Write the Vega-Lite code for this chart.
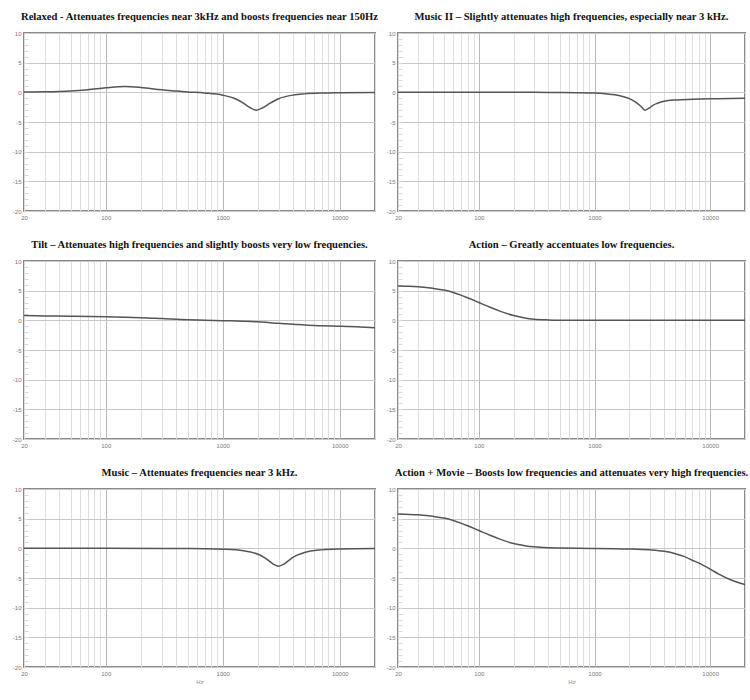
{
  "$schema": "https://vega.github.io/schema/vega-lite/v6.json",
  "background": "white",
  "padding": {"left": 11, "top": 11, "right": 5, "bottom": 5},
  "bounds": "flush",
  "columns": 2,
  "spacing": {"column": 23, "row": 50},
  "data": {"values": [
    {"panel": "relaxed", "f": 20, "db": 0.04},
    {"panel": "relaxed", "f": 30, "db": 0.09},
    {"panel": "relaxed", "f": 40, "db": 0.15},
    {"panel": "relaxed", "f": 50, "db": 0.23},
    {"panel": "relaxed", "f": 70, "db": 0.44},
    {"panel": "relaxed", "f": 100, "db": 0.77},
    {"panel": "relaxed", "f": 146, "db": 1.0},
    {"panel": "relaxed", "f": 200, "db": 0.83},
    {"panel": "relaxed", "f": 300, "db": 0.42},
    {"panel": "relaxed", "f": 400, "db": 0.22},
    {"panel": "relaxed", "f": 500, "db": 0.07},
    {"panel": "relaxed", "f": 700, "db": -0.12},
    {"panel": "relaxed", "f": 1000, "db": -0.48},
    {"panel": "relaxed", "f": 1250, "db": -1.0},
    {"panel": "relaxed", "f": 1500, "db": -1.82},
    {"panel": "relaxed", "f": 1700, "db": -2.55},
    {"panel": "relaxed", "f": 1930, "db": -3.0},
    {"panel": "relaxed", "f": 2200, "db": -2.6},
    {"panel": "relaxed", "f": 2500, "db": -1.91},
    {"panel": "relaxed", "f": 3000, "db": -1.08},
    {"panel": "relaxed", "f": 4000, "db": -0.46},
    {"panel": "relaxed", "f": 5000, "db": -0.26},
    {"panel": "relaxed", "f": 7000, "db": -0.12},
    {"panel": "relaxed", "f": 10000, "db": -0.06},
    {"panel": "relaxed", "f": 20000, "db": -0.01},

    {"panel": "music2", "f": 20, "db": 0},
    {"panel": "music2", "f": 100, "db": 0},
    {"panel": "music2", "f": 300, "db": 0},
    {"panel": "music2", "f": 500, "db": -0.02},
    {"panel": "music2", "f": 700, "db": -0.05},
    {"panel": "music2", "f": 1000, "db": -0.12},
    {"panel": "music2", "f": 1250, "db": -0.25},
    {"panel": "music2", "f": 1500, "db": -0.42},
    {"panel": "music2", "f": 1750, "db": -0.7},
    {"panel": "music2", "f": 2000, "db": -1.05},
    {"panel": "music2", "f": 2250, "db": -1.6},
    {"panel": "music2", "f": 2500, "db": -2.3},
    {"panel": "music2", "f": 2735, "db": -3.0},
    {"panel": "music2", "f": 3000, "db": -2.6},
    {"panel": "music2", "f": 3250, "db": -2.1},
    {"panel": "music2", "f": 3500, "db": -1.85},
    {"panel": "music2", "f": 4000, "db": -1.5},
    {"panel": "music2", "f": 5000, "db": -1.28},
    {"panel": "music2", "f": 7000, "db": -1.17},
    {"panel": "music2", "f": 10000, "db": -1.1},
    {"panel": "music2", "f": 15000, "db": -1.05},
    {"panel": "music2", "f": 20000, "db": -1.0},

    {"panel": "tilt", "f": 20, "db": 0.8},
    {"panel": "tilt", "f": 30, "db": 0.75},
    {"panel": "tilt", "f": 50, "db": 0.7},
    {"panel": "tilt", "f": 100, "db": 0.6},
    {"panel": "tilt", "f": 150, "db": 0.5},
    {"panel": "tilt", "f": 200, "db": 0.45},
    {"panel": "tilt", "f": 300, "db": 0.3},
    {"panel": "tilt", "f": 500, "db": 0.1},
    {"panel": "tilt", "f": 700, "db": 0.03},
    {"panel": "tilt", "f": 1000, "db": -0.05},
    {"panel": "tilt", "f": 1500, "db": -0.15},
    {"panel": "tilt", "f": 2000, "db": -0.25},
    {"panel": "tilt", "f": 3000, "db": -0.5},
    {"panel": "tilt", "f": 4000, "db": -0.65},
    {"panel": "tilt", "f": 5000, "db": -0.8},
    {"panel": "tilt", "f": 7000, "db": -0.92},
    {"panel": "tilt", "f": 10000, "db": -1.0},
    {"panel": "tilt", "f": 15000, "db": -1.12},
    {"panel": "tilt", "f": 20000, "db": -1.25},

    {"panel": "action", "f": 20, "db": 5.8},
    {"panel": "action", "f": 25, "db": 5.75},
    {"panel": "action", "f": 30, "db": 5.65},
    {"panel": "action", "f": 40, "db": 5.4},
    {"panel": "action", "f": 50, "db": 5.1},
    {"panel": "action", "f": 60, "db": 4.7},
    {"panel": "action", "f": 70, "db": 4.25},
    {"panel": "action", "f": 80, "db": 3.8},
    {"panel": "action", "f": 100, "db": 3.0},
    {"panel": "action", "f": 125, "db": 2.2},
    {"panel": "action", "f": 150, "db": 1.6},
    {"panel": "action", "f": 200, "db": 0.8},
    {"panel": "action", "f": 250, "db": 0.4},
    {"panel": "action", "f": 300, "db": 0.2},
    {"panel": "action", "f": 400, "db": 0.07},
    {"panel": "action", "f": 500, "db": 0.02},
    {"panel": "action", "f": 700, "db": 0},
    {"panel": "action", "f": 1000, "db": 0},
    {"panel": "action", "f": 20000, "db": 0},

    {"panel": "music", "f": 20, "db": 0},
    {"panel": "music", "f": 100, "db": 0},
    {"panel": "music", "f": 300, "db": -0.01},
    {"panel": "music", "f": 500, "db": -0.03},
    {"panel": "music", "f": 700, "db": -0.06},
    {"panel": "music", "f": 1000, "db": -0.14},
    {"panel": "music", "f": 1500, "db": -0.4},
    {"panel": "music", "f": 2000, "db": -1.0},
    {"panel": "music", "f": 2250, "db": -1.51},
    {"panel": "music", "f": 2500, "db": -2.16},
    {"panel": "music", "f": 2750, "db": -2.76},
    {"panel": "music", "f": 3000, "db": -3.0},
    {"panel": "music", "f": 3300, "db": -2.71},
    {"panel": "music", "f": 3600, "db": -2.16},
    {"panel": "music", "f": 4000, "db": -1.5},
    {"panel": "music", "f": 5000, "db": -0.7},
    {"panel": "music", "f": 7000, "db": -0.26},
    {"panel": "music", "f": 10000, "db": -0.11},
    {"panel": "music", "f": 20000, "db": -0.02},

    {"panel": "actionmovie", "f": 20, "db": 5.8},
    {"panel": "actionmovie", "f": 30, "db": 5.65},
    {"panel": "actionmovie", "f": 40, "db": 5.4},
    {"panel": "actionmovie", "f": 50, "db": 5.1},
    {"panel": "actionmovie", "f": 60, "db": 4.7},
    {"panel": "actionmovie", "f": 70, "db": 4.25},
    {"panel": "actionmovie", "f": 80, "db": 3.8},
    {"panel": "actionmovie", "f": 100, "db": 3.0},
    {"panel": "actionmovie", "f": 125, "db": 2.2},
    {"panel": "actionmovie", "f": 150, "db": 1.6},
    {"panel": "actionmovie", "f": 200, "db": 0.8},
    {"panel": "actionmovie", "f": 250, "db": 0.45},
    {"panel": "actionmovie", "f": 300, "db": 0.25},
    {"panel": "actionmovie", "f": 400, "db": 0.1},
    {"panel": "actionmovie", "f": 500, "db": 0.05},
    {"panel": "actionmovie", "f": 700, "db": 0.0},
    {"panel": "actionmovie", "f": 1000, "db": -0.02},
    {"panel": "actionmovie", "f": 1500, "db": -0.05},
    {"panel": "actionmovie", "f": 2000, "db": -0.1},
    {"panel": "actionmovie", "f": 3000, "db": -0.25},
    {"panel": "actionmovie", "f": 4000, "db": -0.5},
    {"panel": "actionmovie", "f": 5000, "db": -0.9},
    {"panel": "actionmovie", "f": 6000, "db": -1.4},
    {"panel": "actionmovie", "f": 7000, "db": -2.0},
    {"panel": "actionmovie", "f": 8000, "db": -2.5},
    {"panel": "actionmovie", "f": 10000, "db": -3.5},
    {"panel": "actionmovie", "f": 12000, "db": -4.4},
    {"panel": "actionmovie", "f": 15000, "db": -5.3},
    {"panel": "actionmovie", "f": 20000, "db": -6.1}
  ]},
  "concat": [
    {
      "title": "Relaxed - Attenuates frequencies near 3kHz and boosts frequencies near 150Hz",
      "width": 351, "height": 178,
      "transform": [{"filter": "datum.panel == 'relaxed'"}],
      "mark": {"type": "line", "interpolate": "monotone", "color": "#555555", "strokeWidth": 1.5},
      "encoding": {
        "x": {"field": "f", "type": "quantitative", "scale": {"type": "log", "domain": [20, 20000]},
              "axis": {"title": null, "values": [20,30,40,50,60,70,80,90,100,200,300,400,500,600,700,800,900,1000,2000,3000,4000,5000,6000,7000,8000,9000,10000,20000]}},
        "y": {"field": "db", "type": "quantitative", "scale": {"domain": [-20, 10]}, "axis": {"title": null, "values": [-20,-19,-18,-17,-16,-15,-14,-13,-12,-11,-10,-9,-8,-7,-6,-5,-4,-3,-2,-1,0,1,2,3,4,5,6,7,8,9,10]}}
      }
    },
    {
      "title": "Music II \u2013 Slightly attenuates high frequencies, especially near 3 kHz.",
      "width": 347, "height": 178,
      "transform": [{"filter": "datum.panel == 'music2'"}],
      "mark": {"type": "line", "interpolate": "monotone", "color": "#555555", "strokeWidth": 1.5},
      "encoding": {
        "x": {"field": "f", "type": "quantitative", "scale": {"type": "log", "domain": [20, 20000]},
              "axis": {"title": null, "values": [20,30,40,50,60,70,80,90,100,200,300,400,500,600,700,800,900,1000,2000,3000,4000,5000,6000,7000,8000,9000,10000,20000]}},
        "y": {"field": "db", "type": "quantitative", "scale": {"domain": [-20, 10]}, "axis": {"title": null, "values": [-20,-19,-18,-17,-16,-15,-14,-13,-12,-11,-10,-9,-8,-7,-6,-5,-4,-3,-2,-1,0,1,2,3,4,5,6,7,8,9,10]}}
      }
    },
    {
      "title": "Tilt \u2013 Attenuates high frequencies and slightly boosts very low frequencies.",
      "width": 351, "height": 178,
      "transform": [{"filter": "datum.panel == 'tilt'"}],
      "mark": {"type": "line", "interpolate": "monotone", "color": "#555555", "strokeWidth": 1.5},
      "encoding": {
        "x": {"field": "f", "type": "quantitative", "scale": {"type": "log", "domain": [20, 20000]},
              "axis": {"title": null, "values": [20,30,40,50,60,70,80,90,100,200,300,400,500,600,700,800,900,1000,2000,3000,4000,5000,6000,7000,8000,9000,10000,20000]}},
        "y": {"field": "db", "type": "quantitative", "scale": {"domain": [-20, 10]}, "axis": {"title": null, "values": [-20,-19,-18,-17,-16,-15,-14,-13,-12,-11,-10,-9,-8,-7,-6,-5,-4,-3,-2,-1,0,1,2,3,4,5,6,7,8,9,10]}}
      }
    },
    {
      "title": "Action \u2013 Greatly accentuates low frequencies.",
      "width": 347, "height": 178,
      "transform": [{"filter": "datum.panel == 'action'"}],
      "mark": {"type": "line", "interpolate": "monotone", "color": "#555555", "strokeWidth": 1.5},
      "encoding": {
        "x": {"field": "f", "type": "quantitative", "scale": {"type": "log", "domain": [20, 20000]},
              "axis": {"title": null, "values": [20,30,40,50,60,70,80,90,100,200,300,400,500,600,700,800,900,1000,2000,3000,4000,5000,6000,7000,8000,9000,10000,20000]}},
        "y": {"field": "db", "type": "quantitative", "scale": {"domain": [-20, 10]}, "axis": {"title": null, "values": [-20,-19,-18,-17,-16,-15,-14,-13,-12,-11,-10,-9,-8,-7,-6,-5,-4,-3,-2,-1,0,1,2,3,4,5,6,7,8,9,10]}}
      }
    },
    {
      "title": "Music \u2013 Attenuates frequencies near 3 kHz.",
      "width": 351, "height": 178,
      "transform": [{"filter": "datum.panel == 'music'"}],
      "mark": {"type": "line", "interpolate": "monotone", "color": "#555555", "strokeWidth": 1.5},
      "encoding": {
        "x": {"field": "f", "type": "quantitative", "scale": {"type": "log", "domain": [20, 20000]},
              "axis": {"title": "Hz", "values": [20,30,40,50,60,70,80,90,100,200,300,400,500,600,700,800,900,1000,2000,3000,4000,5000,6000,7000,8000,9000,10000,20000]}},
        "y": {"field": "db", "type": "quantitative", "scale": {"domain": [-20, 10]}, "axis": {"title": null, "values": [-20,-19,-18,-17,-16,-15,-14,-13,-12,-11,-10,-9,-8,-7,-6,-5,-4,-3,-2,-1,0,1,2,3,4,5,6,7,8,9,10]}}
      }
    },
    {
      "title": "Action + Movie \u2013 Boosts low frequencies and attenuates very high frequencies.",
      "width": 347, "height": 178,
      "transform": [{"filter": "datum.panel == 'actionmovie'"}],
      "mark": {"type": "line", "interpolate": "monotone", "color": "#555555", "strokeWidth": 1.5},
      "encoding": {
        "x": {"field": "f", "type": "quantitative", "scale": {"type": "log", "domain": [20, 20000]},
              "axis": {"title": "Hz", "values": [20,30,40,50,60,70,80,90,100,200,300,400,500,600,700,800,900,1000,2000,3000,4000,5000,6000,7000,8000,9000,10000,20000]}},
        "y": {"field": "db", "type": "quantitative", "scale": {"domain": [-20, 10]}, "axis": {"title": null, "values": [-20,-19,-18,-17,-16,-15,-14,-13,-12,-11,-10,-9,-8,-7,-6,-5,-4,-3,-2,-1,0,1,2,3,4,5,6,7,8,9,10]}}
      }
    }
  ],
  "config": {
    "view": {"stroke": "#8a8a8a", "strokeWidth": 2},
    "title": {"font": "Liberation Serif", "fontSize": 10.6, "fontWeight": "bold", "color": "#111111", "anchor": "middle", "offset": 7},
    "axis": {"domain": false, "labelFont": "Arial", "labelFontSize": 6, "labelColor": "#777777", "titleFont": "Arial", "titleFontSize": 6, "titleFontWeight": "normal", "titleColor": "#888888"},
    "axisX": {
      "ticks": false,
      "labelOverlap": false, "labelFlush": false, "labelPadding": 3, "titlePadding": 2,
      "labelExpr": "(datum.value == 20 || datum.value == 100 || datum.value == 1000 || datum.value == 10000) ? '' + datum.value : ''",
      "gridColor": {"condition": {"test": "datum.value == 100 || datum.value == 1000 || datum.value == 10000", "value": "#b8b8b8"}, "value": "#dedede"},
      "gridWidth": 1
    },
    "axisY": {
      "ticks": true, "tickSize": -4, "tickColor": "#d8d8d8", "tickWidth": 1,
      "labelPadding": 7, "labelFlush": false, "labelOverlap": false,
      "labelExpr": "datum.value % 5 == 0 ? '' + datum.value : ''",
      "gridColor": "#c8c8c8", "gridWidth": 1,
      "gridOpacity": {"condition": {"test": "datum.value % 5 != 0", "value": 0}, "value": 1}
    }
  }
}
